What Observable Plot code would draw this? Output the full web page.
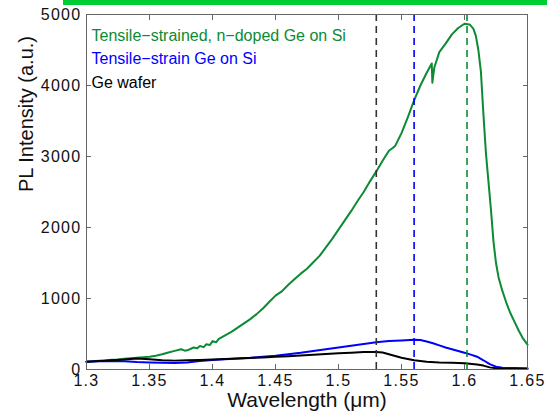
<!DOCTYPE html>
<html>
<head>
<meta charset="utf-8">
<script src="https://cdn.jsdelivr.net/npm/d3@7"></script>
<script src="https://cdn.jsdelivr.net/npm/@observablehq/plot@0.6"></script>
<style>
  html, body { margin: 0; padding: 0; background: #fff; }
  #wrap { position: relative; width: 547px; height: 415px; overflow: hidden; }
  #bar { position: absolute; left: 63px; top: 0; width: 484px; height: 5px; background: #00cc33; }
  svg { font-family: "Liberation Sans", Arial, Helvetica, sans-serif; }
  g[aria-label="x-axis tick label"] text, g[aria-label="y-axis tick label"] text { letter-spacing: 1.3px; }
</style>
</head>
<body>
<div id="wrap"><div id="bar"></div></div>
<script>
// Series: [wavelength (µm), PL intensity (a.u.)]
const dopedGe = [
  [1.300,110],[1.305,115],[1.310,122],[1.315,128],[1.320,138],[1.325,142],[1.330,150],[1.335,158],
  [1.340,165],[1.345,172],[1.350,180],[1.355,195],[1.360,215],[1.365,240],[1.370,262],[1.375,285],
  [1.378,265],[1.380,270],[1.385,310],[1.388,300],[1.390,330],[1.393,315],[1.395,355],[1.398,345],
  [1.400,400],[1.403,385],[1.405,430],[1.410,480],[1.415,530],[1.420,590],[1.425,650],[1.430,710],
  [1.435,780],[1.440,860],[1.445,950],[1.450,1040],[1.455,1100],[1.460,1190],[1.465,1270],[1.470,1350],
  [1.475,1420],[1.480,1510],[1.485,1600],[1.490,1720],[1.495,1840],[1.500,1970],[1.505,2100],[1.510,2230],
  [1.515,2370],[1.520,2500],[1.525,2650],[1.530,2790],[1.535,2940],[1.540,3080],[1.543,3120],[1.545,3150],
  [1.550,3330],[1.555,3550],[1.560,3790],[1.565,4000],[1.570,4180],[1.574,4310],[1.5745,4040],[1.576,4250],
  [1.580,4470],[1.585,4590],[1.590,4720],[1.595,4810],[1.600,4870],[1.604,4860],[1.607,4800],[1.609,4700],
  [1.611,4500],[1.613,4200],[1.615,3600],[1.617,3050],[1.619,2650],[1.621,2250],[1.623,1800],[1.625,1500],
  [1.627,1300],[1.630,1110],[1.633,950],[1.636,810],[1.640,660],[1.643,550],[1.646,450],[1.650,350]
];
const strainedGe = [
  [1.300,110],[1.310,115],[1.320,120],[1.330,115],[1.340,105],[1.350,100],[1.360,95],[1.370,90],
  [1.380,100],[1.390,120],[1.400,135],[1.410,145],[1.420,155],[1.430,165],[1.440,180],[1.450,195],
  [1.460,215],[1.470,235],[1.480,260],[1.490,285],[1.500,310],[1.510,335],[1.520,360],[1.530,385],
  [1.540,400],[1.550,410],[1.560,420],[1.565,415],[1.570,395],[1.575,370],[1.580,340],[1.585,310],
  [1.590,285],[1.595,260],[1.600,235],[1.605,210],[1.610,180],[1.615,130],[1.620,75],[1.625,40],
  [1.630,25],[1.640,20],[1.650,18]
];
const geWafer = [
  [1.300,110],[1.310,120],[1.320,130],[1.330,140],[1.340,155],[1.350,145],[1.360,130],[1.370,125],
  [1.380,130],[1.390,135],[1.400,140],[1.410,148],[1.420,155],[1.430,162],[1.440,170],[1.450,178],
  [1.460,188],[1.470,198],[1.480,208],[1.490,218],[1.500,228],[1.510,237],[1.520,245],[1.530,248],
  [1.535,240],[1.540,215],[1.545,190],[1.550,165],[1.555,148],[1.560,130],[1.570,110],[1.580,100],
  [1.590,95],[1.600,88],[1.610,70],[1.615,55],[1.620,30],[1.625,18],[1.630,10],[1.640,8],[1.650,8]
];
const seriesNames = ["Tensile\u2212strained, n\u2212doped Ge on Si", "Tensile\u2212strain Ge on Si", "Ge wafer"];
const seriesColors = ["#0c8a34", "#0000ff", "#000000"];
const peakWavelengths = [1.53, 1.56, 1.602];
const peakColors = ["#333333", "#0000ff", "#0c8a34"];
const xTicks = [1.3, 1.35, 1.4, 1.45, 1.5, 1.55, 1.6, 1.65];
const yTicks = [0, 1000, 2000, 3000, 4000, 5000];

const rows = [];
[dopedGe, strainedGe, geWafer].forEach((s, i) => s.forEach(([x, y]) => rows.push({x, y, series: seriesNames[i]})));
const peaks = peakWavelengths.map((x, i) => ({x, color: peakColors[i]}));

const chart = Plot.plot({
  width: 547, height: 415,
  marginLeft: 86, marginRight: 20, marginTop: 14, marginBottom: 46,
  x: {domain: [1.3, 1.65]},
  y: {domain: [0, 5000]},
  color: {domain: seriesNames, range: seriesColors},
  style: {fontFamily: "Liberation Sans, Arial, sans-serif", background: "transparent"},
  marks: [
    Plot.line(rows, {x: "x", y: "y", z: "series", stroke: "series", strokeWidth: 2}),
    Plot.ruleX(peaks, {x: "x", stroke: "color", strokeWidth: 1.6, strokeDasharray: "7,5"}),
    Plot.frame({stroke: "#666"}),
    Plot.axisX({anchor: "bottom", ticks: xTicks, tickSize: -5, tickFormat: () => "", label: null, stroke: "#666"}),
    Plot.axisX({anchor: "top", ticks: xTicks, tickSize: -5, tickFormat: () => "", label: null, stroke: "#666"}),
    Plot.axisY({anchor: "left", ticks: yTicks, tickSize: -5, tickFormat: () => "", label: null, stroke: "#666"}),
    Plot.axisY({anchor: "right", ticks: yTicks, tickSize: -5, tickFormat: () => "", label: null, stroke: "#666"}),
    Plot.axisX({anchor: "bottom", ticks: xTicks, tickSize: 0, tickPadding: 5, tickFormat: d => String(d), label: null, fontSize: 16, fill: "#111"}),
    Plot.axisY({anchor: "left", ticks: yTicks, tickSize: 0, tickPadding: 5, tickFormat: d => String(d), label: null, fontSize: 16, fill: "#111"}),
    Plot.text(["Wavelength (\u03bcm)"], {frameAnchor: "bottom", dy: 37, fontSize: 21, fill: "#111"}),
    Plot.text(["PL Intensity (a.u.)"], {frameAnchor: "left", dx: -60, rotate: -90, fontSize: 20, fill: "#111"}),
    Plot.text([seriesNames[0]], {frameAnchor: "top-left", dx: 5, dy: 15, fontSize: 16, fill: seriesColors[0]}),
    Plot.text([seriesNames[1]], {frameAnchor: "top-left", dx: 5, dy: 38, fontSize: 16, fill: seriesColors[1]}),
    Plot.text([seriesNames[2]], {frameAnchor: "top-left", dx: 5, dy: 62, fontSize: 16, fill: seriesColors[2]})
  ]
});
document.getElementById("wrap").prepend(chart);
</script>
</body>
</html>
